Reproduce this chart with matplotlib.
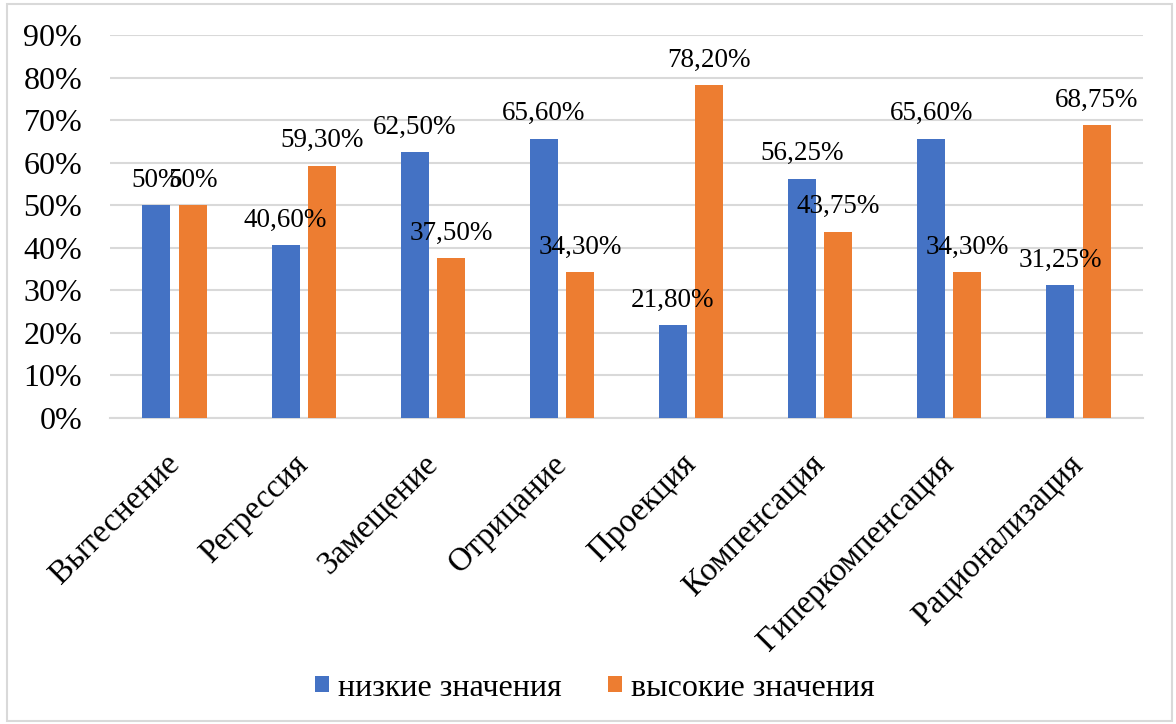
import numpy as np
import matplotlib.pyplot as plt
from matplotlib.patches import Rectangle

categories = ['Вытеснение', 'Регрессия', 'Замещение', 'Отрицание',
              'Проекция', 'Компенсация', 'Гиперкомпенсация', 'Рационализация']
low_vals = [50, 40.6, 62.5, 65.6, 21.8, 56.25, 65.6, 31.25]
high_vals = [50, 59.3, 37.5, 34.3, 78.2, 43.75, 34.3, 68.75]
low_labels = ['50%', '40,60%', '62,50%', '65,60%', '21,80%', '56,25%', '65,60%', '31,25%']
high_labels = ['50%', '59,30%', '37,50%', '34,30%', '78,20%', '43,75%', '34,30%', '68,75%']
series_names = ['низкие значения', 'высокие значения']
yticks = [0, 10, 20, 30, 40, 50, 60, 70, 80, 90]

plt.rcParams['font.family'] = ['Liberation Serif', 'DejaVu Serif']

fig = plt.figure(figsize=(11.76, 7.24), dpi=100)
ax = fig.add_axes([110 / 1176, 1 - 418 / 724, (1143 - 110) / 1176, (418 - 35) / 724])

x = np.arange(len(categories))
w = 0.217
off = 0.14
b1 = ax.bar(x - off, low_vals, w, color='#4472C4', label=series_names[0], zorder=3)
b2 = ax.bar(x + off, high_vals, w, color='#ED7D31', label=series_names[1], zorder=3)

# data labels above each bar
for bars, labels in [(b1, low_labels), (b2, high_labels)]:
    for rect, lab in zip(bars, labels):
        ax.annotate(lab, (rect.get_x() + rect.get_width() / 2, rect.get_height()),
                    xytext=(0, 9), textcoords='offset points',
                    ha='center', va='bottom', fontsize=19.5, zorder=4)

ax.set_xlim(-0.5, len(categories) - 0.5)
ax.set_ylim(0, 90)
ax.set_yticks(yticks)
ax.set_yticklabels([f'{t}%' for t in yticks], fontsize=23)
ax.yaxis.grid(True, color='#d9d9d9', linewidth=1.5, zorder=0)
ax.tick_params(axis='y', length=0, pad=20)
ax.set_xticks(x)
ax.set_xticklabels(categories, rotation=45, ha='right', va='center',
                   rotation_mode='anchor', fontsize=23.5)
ax.tick_params(axis='x', length=0, pad=30)
for s in ['top', 'right', 'left']:
    ax.spines[s].set_visible(False)
ax.spines['bottom'].set_color('#d9d9d9')
ax.spines['bottom'].set_linewidth(1.5)

fig.legend(loc='center', bbox_to_anchor=(595 / 1176, 1 - 688 / 724), ncol=2,
           frameon=False, fontsize=23, handlelength=0.42, handleheight=0.42,
           handletextpad=0.3, columnspacing=1.45)

fig.patches.append(Rectangle((7 / 1176, 3 / 724), 1165 / 1176, 717 / 724,
                             transform=fig.transFigure, fill=False,
                             edgecolor='#d9d9d9', linewidth=1.5))

fig.savefig('out.png', dpi=100)
